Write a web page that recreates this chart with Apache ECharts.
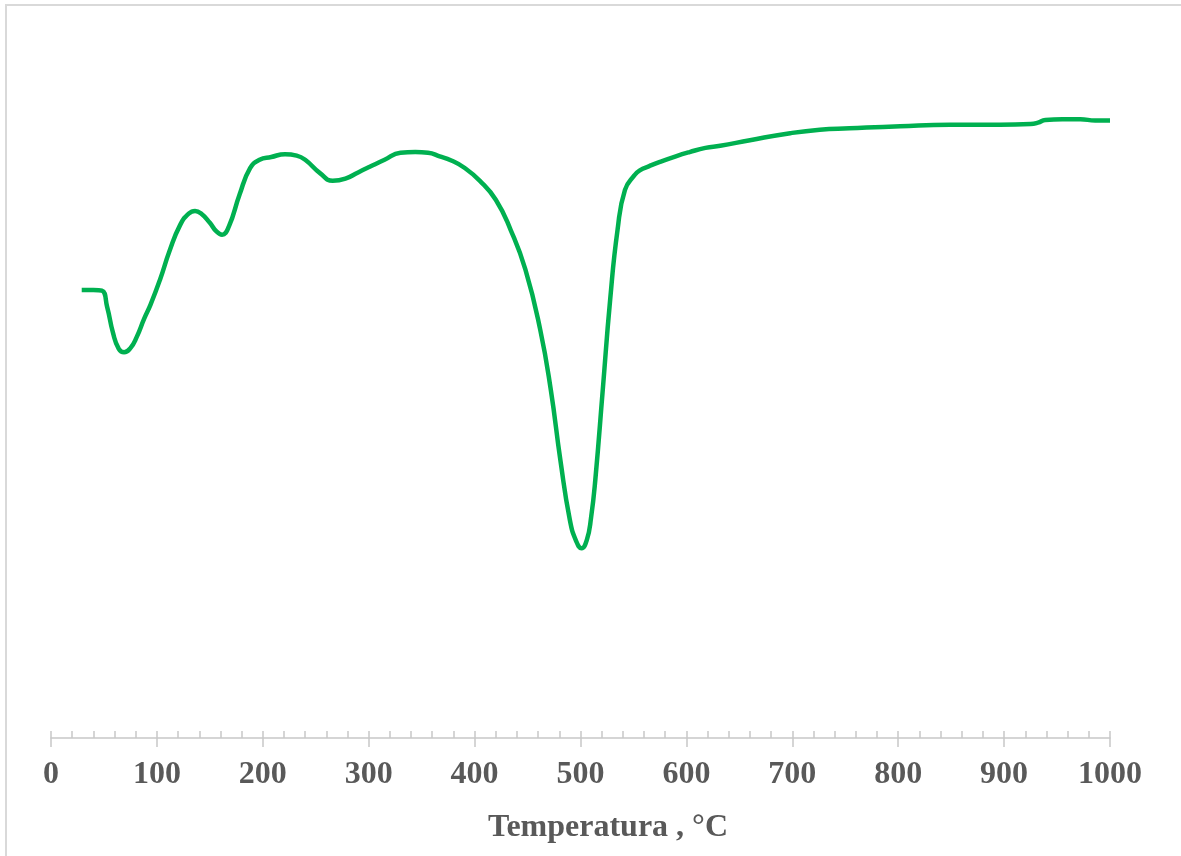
<!DOCTYPE html>
<html>
<head>
<meta charset="utf-8">
<script src="https://cdn.jsdelivr.net/npm/echarts@6/dist/echarts.min.js"></script>
<style>
html,body{margin:0;padding:0;background:#fff;}
#chart{width:1181px;height:856px;}
</style>
</head>
<body>
<div id="chart"></div>
<script>
const temperature = [29, 40, 48, 53, 58.5, 64, 69, 75, 81, 88, 94, 103, 112, 122, 130, 136, 142, 150, 156, 161.5, 168, 178, 188, 197, 208, 221, 232, 240, 254, 266, 278, 290, 301, 315, 330, 344, 356, 367, 378, 390, 405, 420, 434, 448, 462, 472, 481, 490, 496, 501, 506, 510, 514, 521, 528, 535, 542, 551, 556, 565, 575, 590, 603, 618, 632, 660, 698, 726, 754, 802, 849, 896, 925, 932, 939, 955, 972, 986, 1000];
const signal = [64.0, 64.0, 63.9, 61.6, 57.9, 55.6, 55.1, 55.7, 57.3, 59.9, 61.9, 65.5, 69.6, 73.3, 74.9, 75.3, 74.9, 73.6, 72.4, 71.9, 73.1, 77.6, 81.4, 82.6, 83.0, 83.4, 83.2, 82.6, 80.7, 79.6, 79.9, 80.8, 81.6, 82.6, 83.6, 83.7, 83.6, 83.1, 82.5, 81.5, 79.6, 76.9, 72.6, 66.9, 58.3, 49.7, 39.7, 31.1, 28.1, 27.1, 28.3, 31.5, 36.9, 49.7, 62.6, 72.6, 78.3, 80.4, 81.1, 81.7, 82.3, 83.1, 83.7, 84.3, 84.6, 85.4, 86.4, 86.9, 87.1, 87.4, 87.6, 87.6, 87.7, 87.9, 88.3, 88.4, 88.4, 88.2, 88.2];
const xTicks = [0, 100, 200, 300, 400, 500, 600, 700, 800, 900, 1000];
const xTitle = 'Temperatura , °C';

const seriesData = temperature.map((t, i) => [t, signal[i]]);
const labelColor = '#595959';
const axisColor = '#c8c8c8';

const chart = echarts.init(document.getElementById('chart'), null, {renderer: 'canvas'});
chart.setOption({
  animation: false,
  backgroundColor: '#ffffff',
  grid: {left: 51, right: 71, top: 38, bottom: 118, containLabel: false},
  xAxis: [{
    type: 'value', min: xTicks[0], max: xTicks[xTicks.length - 1], interval: 100,
    axisLine: {show: true, lineStyle: {color: axisColor, width: 1.5}},
    axisTick: {show: true, inside: true, length: 7, lineStyle: {color: axisColor, width: 1.5}},
    minorTick: {show: true, splitNumber: 5, length: 7, lineStyle: {color: axisColor, width: 1.5}},
    splitLine: {show: false},
    axisLabel: {show: true, margin: 21, color: labelColor, fontFamily: 'Liberation Serif', fontWeight: 'bold', fontSize: 32,
      formatter: v => String(v)}
  }, {
    type: 'value', min: xTicks[0], max: xTicks[xTicks.length - 1], interval: 100, position: 'bottom',
    axisLine: {show: false},
    axisTick: {show: true, inside: false, length: 9, lineStyle: {color: axisColor, width: 1.5}},
    axisLabel: {show: false},
    splitLine: {show: false}
  }],
  yAxis: {type: 'value', min: 0, max: 100, show: false, splitLine: {show: false}},
  series: [{
    type: 'line', xAxisIndex: 0, data: seriesData, smooth: 0.5, showSymbol: false,
    lineStyle: {color: '#00b050', width: 4.5}
  }],
  graphic: [
    {type: 'rect', shape: {x: 6, y: 5, width: 1300, height: 1000}, style: {fill: 'none', stroke: '#d9d9d9', lineWidth: 2}, silent: true},
    {type: 'text', x: 608, y: 828, style: {text: xTitle, fill: labelColor, font: 'bold 32px "Liberation Serif"', textAlign: 'center', textVerticalAlign: 'middle'}}
  ]
});
</script>
</body>
</html>
